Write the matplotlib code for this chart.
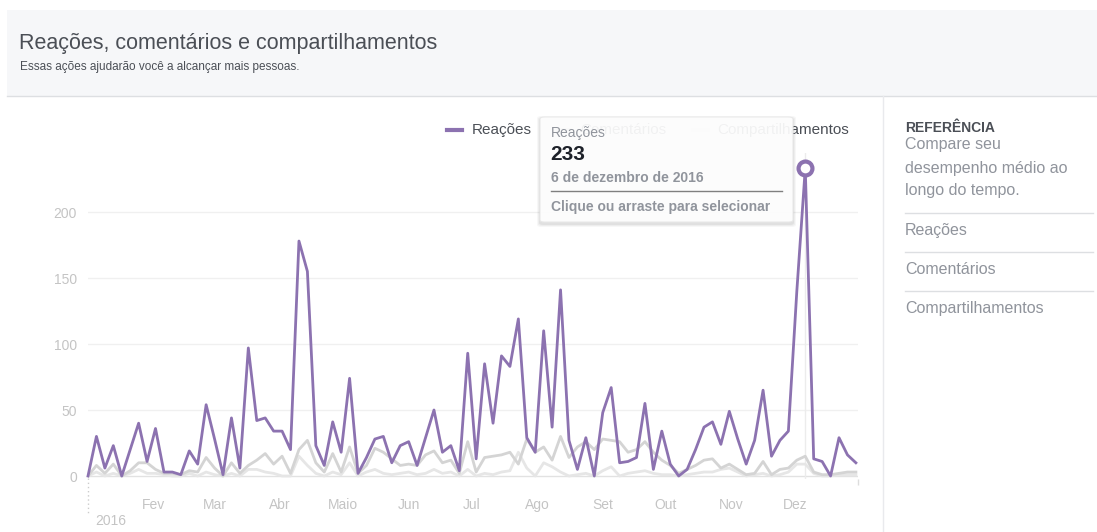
import numpy as np
import pandas as pd
import matplotlib
matplotlib.use('Agg')
import matplotlib.pyplot as plt
from matplotlib.patches import Rectangle, FancyBboxPatch
from matplotlib.lines import Line2D

plt.rcParams['font.family'] = ['Liberation Sans', 'DejaVu Sans']

# dados (um ponto a cada 4 dias em 2016)
datas = pd.date_range('2016-01-01', periods=92, freq='4D')
reacoes = [0, 30, 6, 23, 0, 20, 40, 11, 36, 3,
           3, 1, 19, 9, 54, 28, 1, 44, 6, 97,
           42, 44, 34, 34, 20, 178, 155, 23, 8, 41,
           18, 74, 2, 14, 28, 30, 10, 23, 26, 8,
           29, 50, 18, 23, 4, 93, 13, 85, 40, 91,
           83, 119, 29, 18, 110, 37, 141, 27, 5, 29,
           0, 48, 67, 10, 11, 14, 55, 5, 34, 9,
           0, 5, 20, 37, 41, 24, 49, 28, 9, 27,
           65, 15, 27, 34, 140, 233, 13, 11, 0, 29,
           16, 10]
comentarios = [0, 8, 2, 9, 0, 4, 10, 10, 5, 2,
               2, 1, 4, 3, 14, 6, 0, 10, 2, 8,
               12, 17, 9, 15, 2, 20, 27, 10, 3, 17,
               3, 22, 2, 8, 21, 18, 13, 8, 9, 8,
               16, 19, 10, 12, 2, 26, 3, 14, 15, 16,
               18, 9, 28, 18, 22, 12, 30, 14, 22, 26,
               20, 28, 27, 26, 18, 20, 26, 18, 12, 8,
               2, 5, 8, 12, 13, 6, 9, 5, 1, 2,
               11, 1, 5, 6, 12, 15, 3, 1, 1, 2,
               3, 3]
compartilhamentos = [0, 3, 0, 2, 0, 2, 5, 2, 2, 1,
                     0, 0, 2, 0, 3, 1, 0, 2, 0, 5,
                     5, 3, 2, 0, 0, 15, 8, 2, 0, 3,
                     1, 10, 0, 3, 5, 2, 1, 2, 3, 1,
                     2, 5, 2, 3, 0, 5, 0, 2, 1, 3,
                     4, 18, 6, 0, 10, 7, 3, 0, 1, 2,
                     0, 4, 7, 0, 2, 3, 4, 2, 1, 1,
                     0, 1, 2, 3, 3, 5, 6, 3, 0, 1,
                     2, 0, 1, 3, 9, 9, 2, 0, 0, 1,
                     1, 1]
meses = ['', 'Fev', 'Mar', 'Abr', 'Maio', 'Jun', 'Jul', 'Ago', 'Set', 'Out', 'Nov', 'Dez']
yticks = [0, 50, 100, 150, 200]
destaque = pd.Timestamp('2016-12-06')

roxo = '#8c72b0'
cinza1 = '#d4d4d4'
cinza2 = '#e6e6e6'
W, H = 1097, 532


def fx(px):
    return px / W


def fy(py):
    return 1 - py / H


fig = plt.figure(figsize=(W / 100, H / 100), dpi=100)

# cabeçalho
fig.patches.append(Rectangle((fx(7), fy(96)), 1, 86 / H, transform=fig.transFigure,
                             facecolor='#f6f7f9', edgecolor='none', zorder=0))
fig.add_artist(Line2D([fx(7), 1], [fy(96), fy(96)], color='#dddfe2', lw=1))
fig.text(fx(19), fy(43), 'Reações, comentários e compartilhamentos', fontsize=15.5,
         color='#4b4f56', va='center')
fig.text(fx(20), fy(67), 'Essas ações ajudarão você a alcançar mais pessoas.', fontsize=8.5,
         color='#4b4f56', va='center')

# painel direito
fig.add_artist(Line2D([fx(883), fx(883)], [fy(96), 0], color='#e9eaed', lw=1))
fig.text(fx(905), fy(128), 'REFERÊNCIA', fontsize=10, fontweight='bold', color='#4b4f56', va='center')
for txt, yy in [('Compare seu', 145), ('desempenho médio ao', 169), ('longo do tempo.', 190)]:
    fig.text(fx(905), fy(yy), txt, fontsize=11.5, color='#90949c', va='center')
for yy in [213, 252, 291]:
    fig.add_artist(Line2D([fx(905), fx(1093)], [fy(yy), fy(yy)], color='#dddfe2', lw=1))
for txt, yy in [('Reações', 230), ('Comentários', 269), ('Compartilhamentos', 308)]:
    fig.text(fx(905), fy(yy), txt, fontsize=11.5, color='#90949c', va='center')

# gráfico
y0, y1 = -2, 245
ppu = 1.32
bot = 476 + (0 - y0) * ppu
top = 476 - y1 * ppu
ax = fig.add_axes([fx(88), fy(bot), 770 / W, (bot - top) / H])
ax.set_facecolor('none')
ax.set_ylim(y0, y1)
ax.set_xlim(pd.Timestamp('2016-01-01'), pd.Timestamp('2016-12-31'))
for s in ax.spines.values():
    s.set_visible(False)
for v in yticks[1:]:
    ax.axhline(v, color='#f0f0f0', lw=1, zorder=0)
ax.axhline(0, color='#e2e2e2', lw=1, zorder=0)
ax.axvline(destaque, color='#ececec', lw=1, zorder=0)

ax.plot(datas, compartilhamentos, color=cinza2, lw=2, zorder=2)
ax.plot(datas, comentarios, color=cinza1, lw=2, zorder=2)
ax.plot(datas, reacoes, color=roxo, lw=2, zorder=3, clip_on=False)
i = list(datas).index(destaque)
ax.plot([datas[i]], [reacoes[i]], marker='o', ms=10, mfc='white', mec=roxo, mew=3,
        zorder=4, clip_on=False)

ax.set_yticks(yticks)
ax.tick_params(axis='y', length=0, pad=8, labelsize=10, labelcolor='#c4c4c4')
inicio_mes = pd.date_range('2016-01-01', periods=12, freq='MS')
meio_mes = pd.date_range('2016-01-16', periods=11, freq='MS')
ax.set_xticks(inicio_mes)
ax.set_xticklabels(meses)
ax.set_xticks(list(meio_mes) + [pd.Timestamp('2016-12-31')], minor=True)
ax.tick_params(axis='x', which='major', length=0, pad=14, labelsize=10, labelcolor='#c4c4c4')
ax.tick_params(axis='x', which='minor', length=4, width=1, color='#dddddd')

# ano
fig.add_artist(Line2D([fx(88), fx(88)], [fy(478), fy(514)], color='#cccccc', lw=1, ls=(0, (1, 2))))
fig.text(fx(95), fy(521), '2016', fontsize=10, color='#c4c4c4', va='center')

# legenda
leg = [(447, roxo, 472, 'Reações'),
       (555, cinza1, 580, 'Comentários'),
       (693, cinza2, 717, 'Compartilhamentos')]
for lx, c, tx, txt in leg:
    fig.add_artist(Line2D([fx(lx), fx(lx + 15)], [fy(130), fy(130)], color=c, lw=3, zorder=3))
    fig.text(fx(tx), fy(130), txt, fontsize=11, color='#4b4f56', va='center', zorder=3)

# tooltip
for k, a in enumerate([0.05, 0.04, 0.03]):
    d = k + 1
    fig.patches.append(FancyBboxPatch((fx(540 - d), fy(222 + d + 2)), (253 + 2 * d) / W, (105 + 2 * d) / H,
                                      boxstyle='round,pad=0,rounding_size=0.004',
                                      transform=fig.transFigure, facecolor='black', alpha=a,
                                      edgecolor='none', zorder=5))
fig.patches.append(FancyBboxPatch((fx(540), fy(222)), 253 / W, 105 / H,
                                  boxstyle='round,pad=0,rounding_size=0.004',
                                  transform=fig.transFigure, facecolor='white', alpha=0.93,
                                  edgecolor='#e8e8e8', lw=0.8, zorder=6))
fig.text(fx(551), fy(133), 'Reações', fontsize=10, color='#90949c', va='center', zorder=7)
fig.text(fx(550), fy(154), '233', fontsize=15, fontweight='bold', color='#1d2129', va='center', zorder=7)
fig.text(fx(551), fy(178), '6 de dezembro de 2016', fontsize=10, fontweight='bold', color='#90949c',
         va='center', zorder=7)
fig.add_artist(Line2D([fx(551), fx(782)], [fy(191), fy(191)], color='#7f7f7f', lw=1, zorder=7))
fig.text(fx(551), fy(207), 'Clique ou arraste para selecionar', fontsize=10, fontweight='bold',
         color='#90949c', va='center', zorder=7)

fig.savefig('out.png', dpi=100)
